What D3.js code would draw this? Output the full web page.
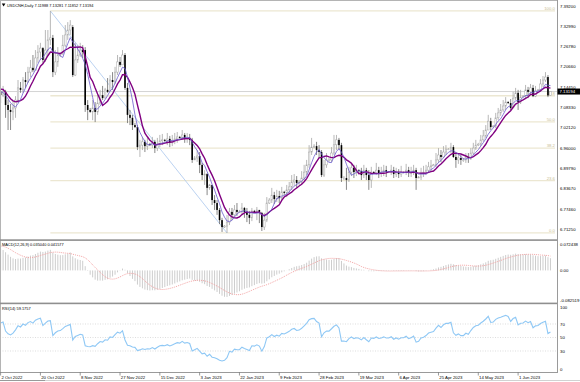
<!DOCTYPE html>
<html><head><meta charset="utf-8">
<script src="https://cdn.jsdelivr.net/npm/d3@7"></script>
<style>body{margin:0;background:#fff}svg{display:block}text{font-family:"Liberation Sans",Arial,sans-serif}</style>
</head><body><svg id="chart" width="580" height="382"></svg>
<script>
// ---- data ----
const symbol = "USDCNH,Daily";
const opens = [7.131,7.121,7.131,7.091,7.076,7.070,7.082,7.106,7.143,7.137,7.167,7.161,7.191,7.204,7.197,7.234,7.252,7.264,7.228,7.258,7.289,7.295,7.191,7.222,7.243,7.249,7.273,7.304,7.319,7.328,7.182,7.228,7.243,7.258,7.258,7.091,7.076,7.070,7.082,7.070,7.097,7.121,7.112,7.137,7.131,7.167,7.161,7.191,7.222,7.213,7.243,7.143,7.061,7.052,7.030,7.024,6.963,6.969,6.979,6.966,6.972,6.969,6.979,6.960,6.972,6.982,6.985,6.982,6.988,6.976,6.982,6.988,6.994,6.991,7.000,6.988,6.991,6.985,6.924,6.930,6.936,6.909,6.878,6.881,6.839,6.848,6.802,6.793,6.772,6.741,6.720,6.723,6.735,6.766,6.757,6.772,6.766,6.766,6.778,6.766,6.757,6.748,6.769,6.766,6.772,6.763,6.720,6.741,6.793,6.802,6.817,6.805,6.814,6.808,6.827,6.824,6.833,6.842,6.857,6.863,6.854,6.857,6.869,6.887,6.909,6.948,6.963,6.966,6.954,6.948,6.878,6.909,6.924,6.924,6.945,6.970,6.985,6.969,6.869,6.869,6.863,6.887,6.900,6.887,6.893,6.890,6.878,6.893,6.878,6.863,6.887,6.884,6.893,6.884,6.887,6.893,6.887,6.887,6.893,6.881,6.887,6.881,6.887,6.887,6.893,6.884,6.887,6.893,6.869,6.872,6.884,6.887,6.893,6.903,6.906,6.909,6.924,6.939,6.933,6.948,6.957,6.957,6.963,6.933,6.924,6.930,6.924,6.924,6.933,6.930,6.945,6.960,6.969,6.972,6.985,6.997,7.015,7.042,7.024,7.027,7.052,7.067,7.076,7.088,7.100,7.097,7.082,7.112,7.128,7.100,7.115,7.118,7.137,7.131,7.143,7.118,7.134,7.137,7.155,7.167,7.176,7.11988];
const highs = [7.143,7.149,7.137,7.106,7.094,7.103,7.118,7.167,7.161,7.176,7.191,7.207,7.228,7.243,7.258,7.273,7.280,7.267,7.319,7.319,7.377,7.304,7.258,7.267,7.252,7.304,7.334,7.343,7.349,7.334,7.280,7.273,7.280,7.273,7.267,7.106,7.082,7.106,7.100,7.121,7.137,7.149,7.143,7.173,7.182,7.191,7.207,7.243,7.237,7.258,7.249,7.158,7.076,7.061,7.036,7.030,6.985,6.994,6.985,6.991,6.976,6.994,6.985,6.991,7.000,7.003,6.988,7.006,6.997,7.000,7.006,7.009,6.997,7.015,7.006,7.006,7.003,6.991,6.936,6.954,6.948,6.915,6.893,6.884,6.851,6.848,6.817,6.802,6.778,6.748,6.726,6.757,6.778,6.778,6.787,6.793,6.772,6.793,6.781,6.778,6.769,6.778,6.772,6.781,6.772,6.766,6.763,6.811,6.808,6.839,6.827,6.833,6.830,6.842,6.830,6.848,6.857,6.878,6.881,6.875,6.863,6.890,6.909,6.924,6.969,6.991,6.972,6.979,6.969,6.954,6.924,6.945,6.930,6.963,7.000,7.000,6.991,6.976,6.875,6.900,6.903,6.915,6.909,6.909,6.896,6.900,6.909,6.900,6.893,6.903,6.890,6.915,6.903,6.903,6.909,6.906,6.890,6.909,6.903,6.900,6.896,6.906,6.890,6.912,6.903,6.903,6.909,6.900,6.875,6.900,6.906,6.909,6.918,6.924,6.912,6.945,6.960,6.954,6.966,6.969,6.960,6.976,6.969,6.945,6.945,6.939,6.930,6.945,6.945,6.960,6.976,6.985,6.976,7.000,7.015,7.030,7.061,7.052,7.030,7.067,7.082,7.094,7.106,7.115,7.103,7.109,7.131,7.143,7.137,7.137,7.121,7.152,7.146,7.155,7.152,7.149,7.140,7.170,7.179,7.191,7.182,7.13281];
const lows = [7.097,7.115,7.052,7.015,7.015,7.045,7.052,7.097,7.128,7.128,7.143,7.158,7.176,7.191,7.197,7.219,7.228,7.219,7.222,7.243,7.273,7.176,7.182,7.207,7.237,7.243,7.267,7.289,7.304,7.176,7.179,7.219,7.237,7.234,7.070,7.045,7.067,7.045,7.039,7.061,7.091,7.106,7.128,7.128,7.143,7.137,7.155,7.182,7.207,7.222,7.137,7.036,7.030,7.015,7.021,6.954,6.933,6.954,6.948,6.954,6.966,6.960,6.945,6.951,6.963,6.969,6.979,6.969,6.963,6.966,6.972,6.976,6.988,6.985,6.976,6.976,6.969,6.915,6.924,6.918,6.884,6.863,6.848,6.817,6.833,6.787,6.772,6.757,6.729,6.705,6.717,6.702,6.726,6.741,6.751,6.754,6.763,6.760,6.748,6.735,6.729,6.738,6.763,6.741,6.732,6.708,6.711,6.735,6.790,6.793,6.790,6.796,6.793,6.802,6.817,6.811,6.820,6.833,6.845,6.839,6.848,6.848,6.863,6.878,6.900,6.939,6.960,6.939,6.930,6.872,6.872,6.900,6.918,6.918,6.939,6.954,6.954,6.857,6.863,6.833,6.857,6.875,6.869,6.875,6.884,6.863,6.869,6.863,6.833,6.839,6.881,6.878,6.869,6.872,6.875,6.872,6.884,6.878,6.869,6.872,6.869,6.872,6.884,6.878,6.872,6.872,6.878,6.833,6.869,6.863,6.872,6.878,6.887,6.890,6.906,6.903,6.915,6.918,6.930,6.939,6.954,6.945,6.930,6.900,6.912,6.909,6.918,6.915,6.915,6.924,6.939,6.954,6.966,6.966,6.979,6.991,7.015,7.015,7.024,7.021,7.045,7.058,7.070,7.076,7.094,7.076,7.082,7.106,7.076,7.094,7.115,7.109,7.112,7.124,7.115,7.115,7.134,7.131,7.146,7.161,7.115,7.11852];
const closes = [7.121,7.131,7.091,7.076,7.070,7.082,7.106,7.143,7.137,7.167,7.161,7.191,7.204,7.197,7.234,7.252,7.264,7.228,7.258,7.289,7.295,7.191,7.222,7.243,7.249,7.273,7.304,7.319,7.334,7.182,7.228,7.243,7.258,7.252,7.091,7.076,7.070,7.082,7.070,7.097,7.121,7.112,7.137,7.131,7.167,7.161,7.191,7.222,7.213,7.243,7.143,7.061,7.052,7.030,7.024,6.963,6.969,6.979,6.966,6.972,6.969,6.979,6.960,6.972,6.982,6.985,6.982,6.988,6.976,6.982,6.988,6.994,6.991,7.000,6.988,6.991,6.985,6.924,6.930,6.936,6.909,6.878,6.881,6.839,6.848,6.802,6.793,6.772,6.741,6.720,6.723,6.735,6.766,6.757,6.772,6.766,6.766,6.778,6.766,6.757,6.748,6.769,6.766,6.772,6.763,6.720,6.741,6.793,6.802,6.817,6.805,6.814,6.808,6.827,6.824,6.833,6.842,6.857,6.863,6.854,6.857,6.869,6.887,6.909,6.948,6.963,6.966,6.954,6.948,6.878,6.909,6.924,6.924,6.945,6.970,6.985,6.969,6.869,6.869,6.863,6.887,6.900,6.887,6.893,6.890,6.878,6.893,6.878,6.863,6.887,6.884,6.893,6.884,6.887,6.893,6.887,6.887,6.893,6.881,6.887,6.881,6.887,6.887,6.893,6.884,6.887,6.893,6.869,6.872,6.884,6.887,6.893,6.903,6.906,6.909,6.924,6.939,6.933,6.948,6.957,6.957,6.963,6.933,6.924,6.930,6.924,6.924,6.933,6.930,6.945,6.960,6.969,6.972,6.985,6.997,7.015,7.042,7.024,7.027,7.052,7.067,7.076,7.088,7.100,7.097,7.082,7.112,7.128,7.100,7.115,7.118,7.137,7.131,7.143,7.118,7.134,7.137,7.155,7.167,7.176,7.120,7.13194];
// closes before the first visible bar (only used to warm up the indicators)
const warmupCloses = [6.780,6.795,6.788,6.805,6.820,6.812,6.830,6.848,6.840,6.860,6.878,6.870,6.890,6.905,6.898,6.915,6.930,6.922,6.940,6.958,6.950,6.970,6.990,6.982,7.005,7.030,7.022,7.050,7.075,7.065,7.095,7.120,7.110,7.140,7.160,7.155,7.145,7.135,7.130,7.128];
const priceTicks = [7.39200,7.32990,7.26780,7.20660,7.14450,7.08330,7.02120,6.96000,6.89790,6.83670,6.77460,6.71250];
const macdTicks = [0.072438,0,-0.082519];
const macdTickLabels = ["0.072438","0.00","-0.082519"];
const rsiTicks = [100,70,50,30,0];
const rsiLevels = [70,50,30];
const fibLevels = [100,61.8,50,38.2,23.6,0];
const dateLabels = ["2 Oct 2022","20 Oct 2022","8 Nov 2022","27 Nov 2022","15 Dec 2022","3 Jan 2023","22 Jan 2023","9 Feb 2023","28 Feb 2023","19 Mar 2023","6 Apr 2023","25 Apr 2023","14 May 2023","1 Jun 2023"];
const dateLabelStep = 16;
const macdLabel = "MACD(12,26,9) 0.035040 0.041577";
const rsiLabel = "RSI(14) 59.1757";
const fastPeriod = 5, slowPeriod = 8;

// ---- indicators ----
const N = closes.length, W0 = warmupCloses.length;
const all = warmupCloses.concat(closes);
function sma(arr, n){return arr.map((v,i)=> i<n-1?null:d3.mean(arr.slice(i-n+1,i+1)));}
function ema(arr, n){const a=2/(n+1);const out=[];arr.forEach((v,i)=>out.push(i===0?v:a*v+(1-a)*out[i-1]));return out;}
const fastMA = sma(all, fastPeriod).slice(W0);
const slowMA = sma(all, slowPeriod).slice(W0);
const e12 = ema(all,12), e26 = ema(all,26);
const macdAll = all.map((v,i)=>e12[i]-e26[i]);
const sigAll = sma(macdAll, 9);
const macd = macdAll.slice(W0), signal = sigAll.slice(W0);
function rsiCalc(arr,n){const out=arr.map(()=>null);let g=0,l=0;
  for(let i=1;i<=n;i++){const d=arr[i]-arr[i-1];if(d>0)g+=d;else l-=d;}g/=n;l/=n;out[n]=l===0?100:100-100/(1+g/l);
  for(let i=n+1;i<arr.length;i++){const d=arr[i]-arr[i-1];g=(g*(n-1)+(d>0?d:0))/n;l=(l*(n-1)+(d<0?-d:0))/n;out[i]=l===0?100:100-100/(1+g/l);}return out;}
const rsi = rsiCalc(all,14).slice(W0);

// ---- layout ----
const svg = d3.select('#chart');
const R = 557;
const panels = {main:[1,239], macd:[241.5,302.5], rsi:[304,371.5]};
const x = d3.scaleLinear().domain([0,N-1]).range([0.6, 0.6+(N-1)*2.488]);
const yP = d3.scaleLinear().domain([6.7125,7.392]).range([229.5,6]);
const yM = d3.scaleLinear().domain([-0.082519,0.072438]).range([300.5,244]);
const yR = d3.scaleLinear().domain([0,100]).range([371.25,303.75]);
const FS = 4.3;

svg.append('rect').attr('width',580).attr('height',382).attr('fill','#fff');
const defs = svg.append('defs');
Object.entries(panels).forEach(([k,[t,b]])=>{
  defs.append('clipPath').attr('id','clip-'+k).append('rect').attr('x',0).attr('y',t).attr('width',R).attr('height',b-t);
});
const gMain = svg.append('g').attr('clip-path','url(#clip-main)');
const gMacd = svg.append('g').attr('clip-path','url(#clip-macd)');
const gRsi = svg.append('g').attr('clip-path','url(#clip-rsi)');

// Fibonacci retracement
const hiIdx = d3.maxIndex(highs), loIdx = d3.minIndex(lows);
const fibHi = highs[hiIdx], fibLo = lows[loIdx];
const fibData = fibLevels.map(lv=>({lv, p: fibLo+(fibHi-fibLo)*lv/100}));
gMain.selectAll('line.fib').data(fibData).join('line').attr('class','fib')
  .attr('x1',x(hiIdx)).attr('x2',555).attr('y1',d=>yP(d.p)).attr('y2',d=>yP(d.p))
  .attr('stroke','#ece7d2').attr('stroke-width',1.3);
gMain.selectAll('text.fib').data(fibData).join('text').attr('class','fib')
  .attr('x',555).attr('y',d=>yP(d.p)-0.9).attr('text-anchor','end')
  .attr('font-size',FS).attr('fill','#c9bd92').text(d=>d.lv.toFixed(1));
// bid line
const last = N-1;
gMain.append('line').attr('x1',0).attr('x2',R).attr('y1',yP(closes[last])).attr('y2',yP(closes[last]))
  .attr('stroke','#d4d4d4').attr('stroke-width',1);
// fib trend line
gMain.append('line').attr('x1',x(hiIdx)).attr('y1',yP(fibHi)).attr('x2',x(loIdx)).attr('y2',yP(fibLo))
  .attr('stroke','#a9c6ee').attr('stroke-width',0.8);

// candles
const bars = d3.range(N).map(i=>({i,o:opens[i],h:highs[i],l:lows[i],c:closes[i]}));
gMain.selectAll('line.wick').data(bars).join('line').attr('class','wick')
  .attr('x1',d=>x(d.i)).attr('x2',d=>x(d.i)).attr('y1',d=>yP(d.h)).attr('y2',d=>yP(d.l))
  .attr('stroke',d=>d.c>=d.o?'#a6a6a6':'#6a6a6a').attr('stroke-width',0.8);
gMain.selectAll('rect.body').data(bars).join('rect').attr('class','body')
  .attr('x',d=>x(d.i)-0.8).attr('width',1.6)
  .attr('y',d=>yP(Math.max(d.o,d.c))).attr('height',d=>Math.max(0.6,Math.abs(yP(d.o)-yP(d.c))))
  .attr('fill',d=>d.c>=d.o?'#ffffff':'#000000')
  .attr('stroke',d=>d.c>=d.o?'#a6a6a6':'none').attr('stroke-width',0.5);

// moving averages
const maLine = arr => d3.line().defined(d=>arr[d]!=null).x(d=>x(d)).y(d=>yP(arr[d]));
gMain.append('path').datum(d3.range(N)).attr('d',maLine(slowMA)).attr('fill','none').attr('stroke','#800080').attr('stroke-width',1.4);
gMain.append('path').datum(d3.range(N)).attr('d',maLine(fastMA)).attr('fill','none').attr('stroke','#6a5acd').attr('stroke-width',0.8);

// MACD
gMacd.selectAll('rect').data(d3.range(N)).join('rect')
  .attr('x',d=>x(d)-0.5).attr('width',1)
  .attr('y',d=>Math.min(yM(0),yM(macd[d]))).attr('height',d=>Math.abs(yM(macd[d])-yM(0)))
  .attr('fill','#cdcdcd');
gMacd.append('path').datum(d3.range(N)).attr('d',d3.line().defined(d=>signal[d]!=null).x(d=>x(d)).y(d=>yM(signal[d])))
  .attr('fill','none').attr('stroke','#f2a3a3').attr('stroke-width',1).attr('stroke-dasharray','1,1');

// RSI
gRsi.selectAll('line.lvl').data(rsiLevels).join('line').attr('class','lvl')
  .attr('x1',0).attr('x2',R).attr('y1',d=>yR(d)).attr('y2',d=>yR(d))
  .attr('stroke','#c8c8c8').attr('stroke-width',0.6).attr('stroke-dasharray','1,1.5');
gRsi.append('path').datum(d3.range(N)).attr('d',d3.line().defined(d=>rsi[d]!=null).x(d=>x(d)).y(d=>yR(rsi[d])))
  .attr('fill','none').attr('stroke','#8fc8f5').attr('stroke-width',1.1);

// frames
const frame = svg.append('g');
frame.append('line').attr('x1',0).attr('x2',R).attr('y1',0.5).attr('y2',0.5).attr('stroke','#b4b4b4');
frame.append('line').attr('x1',0.5).attr('x2',0.5).attr('y1',0).attr('y2',372).attr('stroke','#b4b4b4');
frame.append('rect').attr('x',0).attr('y',239.3).attr('width',R).attr('height',1.6).attr('fill','#8f8f8f');
frame.append('rect').attr('x',0).attr('y',302.6).attr('width',R).attr('height',1.6).attr('fill','#8f8f8f');
frame.append('line').attr('x1',R+0.5).attr('x2',R+0.5).attr('y1',0).attr('y2',372.5).attr('stroke','#9a9a9a');
frame.append('line').attr('x1',0).attr('x2',R+1).attr('y1',372.5).attr('y2',372.5).attr('stroke','#9a9a9a');
frame.append('line').attr('x1',0).attr('x2',580).attr('y1',380.5).attr('y2',380.5).attr('stroke','#d2d2d2');
frame.append('line').attr('x1',0).attr('x2',45).attr('y1',380.5).attr('y2',380.5).attr('stroke','#9a9a9a');

// price axis
const ax = svg.append('g').attr('font-size',FS).attr('fill','#000');
ax.selectAll('text.p').data(priceTicks).join('text').attr('class','p')
  .attr('x',560).attr('y',d=>yP(d)+1.5).text(d=>d.toFixed(5));
ax.append('rect').attr('x',R+0.5).attr('y',yP(closes[last])-3).attr('width',22.5).attr('height',6).attr('fill','#000');
ax.append('text').attr('x',559.5).attr('y',yP(closes[last])+1.5).attr('fill','#fff').text(closes[last].toFixed(5));
ax.selectAll('text.m').data(macdTicks).join('text').attr('class','m')
  .attr('x',560).attr('y',(d,i)=>yM(d)+1.5).text((d,i)=>macdTickLabels[i]);
ax.selectAll('text.r').data(rsiTicks).join('text').attr('class','r')
  .attr('x',560).attr('y',d=>Math.min(Math.max(yR(d),307),369)+1.5).text(d=>d);

// time axis
const tg = svg.append('g');
dateLabels.forEach((t,k)=>{
  const xi = x(k*dateLabelStep);
  tg.append('line').attr('x1',xi).attr('x2',xi).attr('y1',372.5).attr('y2',375.5).attr('stroke','#555').attr('stroke-width',0.6);
  tg.append('text').attr('x',xi+0.8).attr('y',378.6).attr('font-size',FS).attr('fill','#000').text(t);
});

// labels
const L = svg.append('g').attr('fill','#000');
L.append('path').attr('d','M1.8,3.6 L5.4,3.6 L3.6,6.4 Z').attr('fill','#000');
L.append('text').attr('x',7).attr('y',7.2).attr('font-size',3.9)
  .text(`${symbol} ${opens[last].toFixed(5)} ${highs[last].toFixed(5)} ${lows[last].toFixed(5)} ${closes[last].toFixed(5)}`);
L.append('text').attr('x',2).attr('y',245.8).attr('font-size',3.9).text(macdLabel);
L.append('text').attr('x',2).attr('y',309.6).attr('font-size',3.9).text(rsiLabel);
</script>
</body></html>
